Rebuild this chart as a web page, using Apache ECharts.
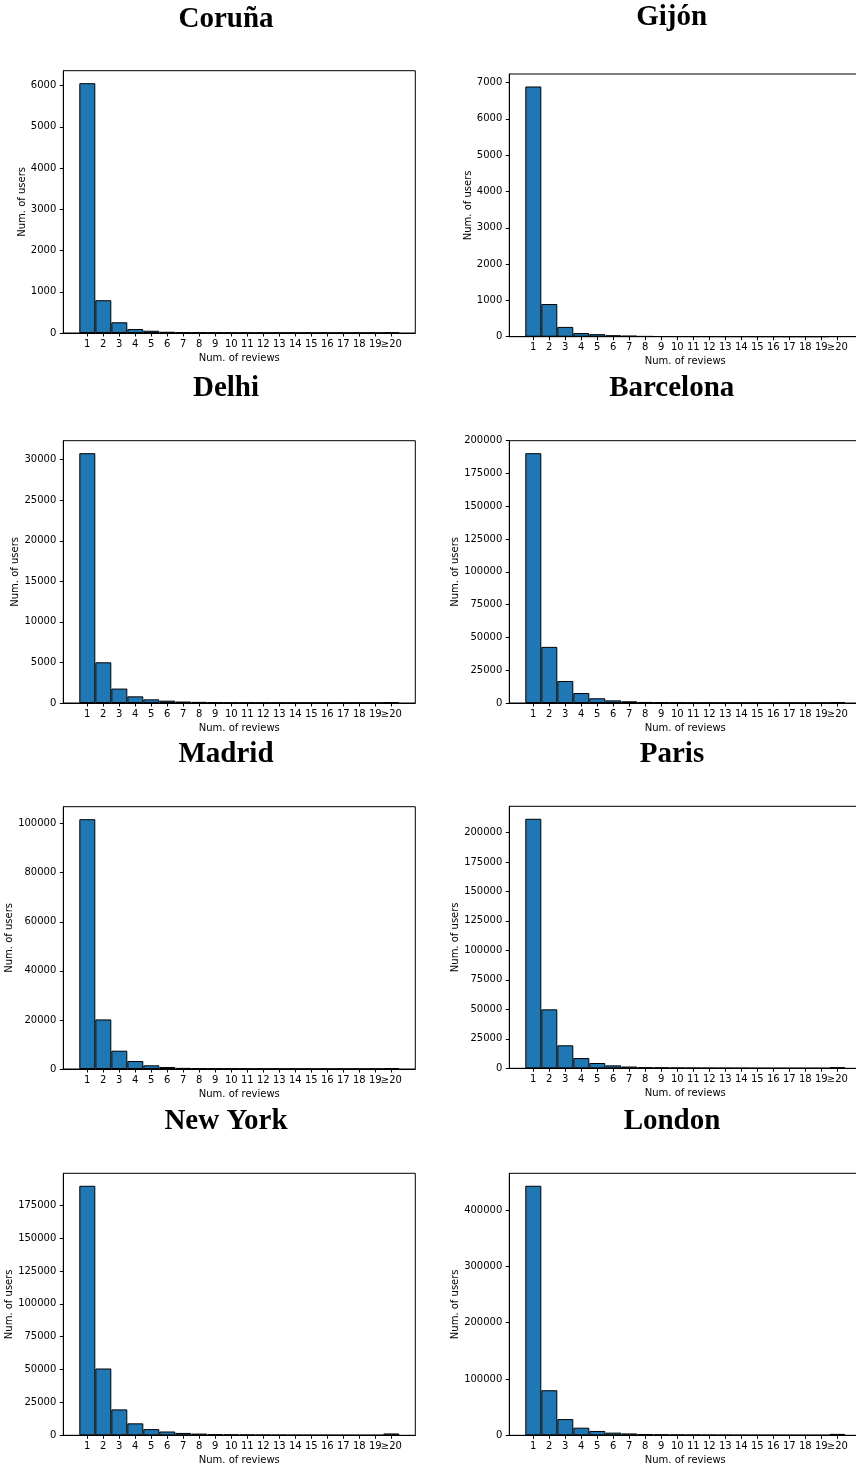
<!DOCTYPE html>
<html><head><meta charset="utf-8">
<script src="https://cdn.jsdelivr.net/npm/echarts@6/dist/echarts.min.js"></script>
<style>html,body{margin:0;padding:0;background:#fff}#c{width:856px;height:1468px}</style>
</head><body><div id="c"></div>
<script>
// ---- data ----
const categories = ['1','2','3','4','5','6','7','8','9','10','11','12','13','14','15','16','17','18','19','≥20'];
const cities = ['Coruña','Gijón','Delhi','Barcelona','Madrid','Paris','New York','London'];
const coruna    = [6060, 795, 260, 95, 55, 30, 18, 14, 10, 8, 7, 6, 5, 5, 4, 4, 3, 3, 3, 8];
const gijon     = [6890, 900, 270, 100, 70, 40, 28, 15, 10, 8, 7, 6, 5, 5, 4, 4, 3, 3, 3, 10];
const delhi     = [30800, 5020, 1780, 820, 450, 290, 180, 140, 90, 60, 50, 40, 35, 30, 25, 22, 20, 16, 15, 80];
const barcelona = [190500, 42800, 16800, 7600, 3600, 2000, 1300, 800, 500, 350, 260, 200, 160, 130, 110, 90, 75, 65, 55, 450];
const madrid    = [101800, 20200, 7450, 3250, 1500, 820, 460, 300, 200, 150, 110, 90, 70, 60, 50, 45, 40, 35, 30, 400];
const paris     = [211600, 50000, 19500, 8700, 4500, 2500, 1500, 900, 700, 500, 400, 300, 250, 200, 160, 130, 110, 100, 90, 900];
const newYork   = [189800, 50800, 19700, 9100, 4700, 2900, 1800, 1300, 900, 650, 500, 400, 320, 260, 210, 180, 150, 130, 110, 1400];
const london    = [443000, 80000, 28800, 13500, 7700, 4700, 3300, 2200, 1600, 1200, 1000, 800, 650, 550, 450, 400, 350, 300, 280, 2500];
const seriesValues = [coruna, gijon, delhi, barcelona, madrid, paris, newYork, london];

const ticksCoruna    = [0,1000,2000,3000,4000,5000,6000];
const ticksGijon     = [0,1000,2000,3000,4000,5000,6000,7000];
const ticksDelhi     = [0,5000,10000,15000,20000,25000,30000];
const ticksBarcelona = [0,25000,50000,75000,100000,125000,150000,175000,200000];
const ticksMadrid    = [0,20000,40000,60000,80000,100000];
const ticksParis     = [0,25000,50000,75000,100000,125000,150000,175000,200000];
const ticksNewYork   = [0,25000,50000,75000,100000,125000,150000,175000];
const ticksLondon    = [0,100000,200000,300000,400000];
const yTicks = [ticksCoruna, ticksGijon, ticksDelhi, ticksBarcelona, ticksMadrid, ticksParis, ticksNewYork, ticksLondon];

// ---- layout ----
const layout = [
  {l:63.3, t:70.7, h:262.3, tx:226, ty:5.5,   ng:36},
  {l:509.3,t:74,   h:262.7, tx:671.7, ty:3, ng:35},
  {l:63.3, t:440.7,h:262.3, tx:226, ty:374.5, ng:42},
  {l:509.3,t:440.7,h:262.3, tx:671.7, ty:374.5, ng:47},
  {l:63.3, t:806.7,h:262.3, tx:226, ty:740.5, ng:48},
  {l:509.3,t:806.3,h:262,   tx:672, ty:740.5, ng:47},
  {l:63.3, t:1173.3,h:262,  tx:226, ty:1107, ng:48},
  {l:509.3,t:1173.3,h:262,  tx:672, ty:1107, ng:47}
];
const W = 352;
const font = 'DejaVu Sans';
const xCats = [''].concat(categories, ['']);

const option = {
  backgroundColor: '#fff',
  animation: false,
  title: [], grid: [], xAxis: [], yAxis: [], series: []
};
cities.forEach((name, i) => {
  const L = layout[i];
  const vals = seriesValues[i];
  const ticks = yTicks[i];
  const step = ticks[1] - ticks[0];
  const yMax = Math.max.apply(null, vals) * 1.05;
  option.title.push({
    text: name, left: L.tx, top: L.ty, textAlign: 'center', padding: 0,
    textStyle: {fontFamily: 'Liberation Serif', fontWeight: 'bold', fontSize: 29, color: '#000'}
  });
  option.grid.push({left: L.l, top: L.t, width: W, height: L.h, show: true, borderColor: '#000', borderWidth: 1,
    backgroundColor: 'transparent', containLabel: false, outerBoundsMode: 'none'});
  option.xAxis.push({
    type: 'category', gridIndex: i, data: xCats, boundaryGap: true,
    axisLine: {show: true, lineStyle: {color: '#000', width: 1}},
    axisTick: {show: true, alignWithLabel: true, length: 3.5, interval: (idx) => idx > 0 && idx < xCats.length - 1, lineStyle: {color: '#000', width: 1}},
    axisLabel: {interval: 0, margin: 6, fontSize: 10, color: '#000', fontFamily: font},
    splitLine: {show: false},
    name: 'Num. of reviews', nameLocation: 'middle', nameGap: 20,
    nameTextStyle: {fontSize: 10, color: '#000', fontFamily: font}
  });
  option.yAxis.push({
    type: 'value', gridIndex: i, min: 0, max: yMax, interval: step,
    axisLine: {show: true, lineStyle: {color: '#000', width: 1}},
    axisTick: {show: true, length: 3.5, customValues: ticks, lineStyle: {color: '#000', width: 1}},
    axisLabel: {margin: 7, fontSize: 10, color: '#000', fontFamily: font, customValues: ticks,
      formatter: (v) => (v % step === 0 ? String(v) : '')},
    splitLine: {show: false},
    name: 'Num. of users', nameLocation: 'middle', nameRotate: 90, nameGap: L.ng,
    nameTextStyle: {fontSize: 10, color: '#000', fontFamily: font}
  });
  option.series.push({
    type: 'bar', xAxisIndex: i, yAxisIndex: i,
    data: ['-'].concat(vals, ['-']),
    barCategoryGap: '0%', barGap: '0%',
    itemStyle: {color: '#1f77b4', borderColor: '#000', borderWidth: 1},
    emphasis: {disabled: true}
  });
});
const chart = echarts.init(document.getElementById('c'), null, {renderer: 'canvas'});
chart.setOption(option);
</script></body></html>
